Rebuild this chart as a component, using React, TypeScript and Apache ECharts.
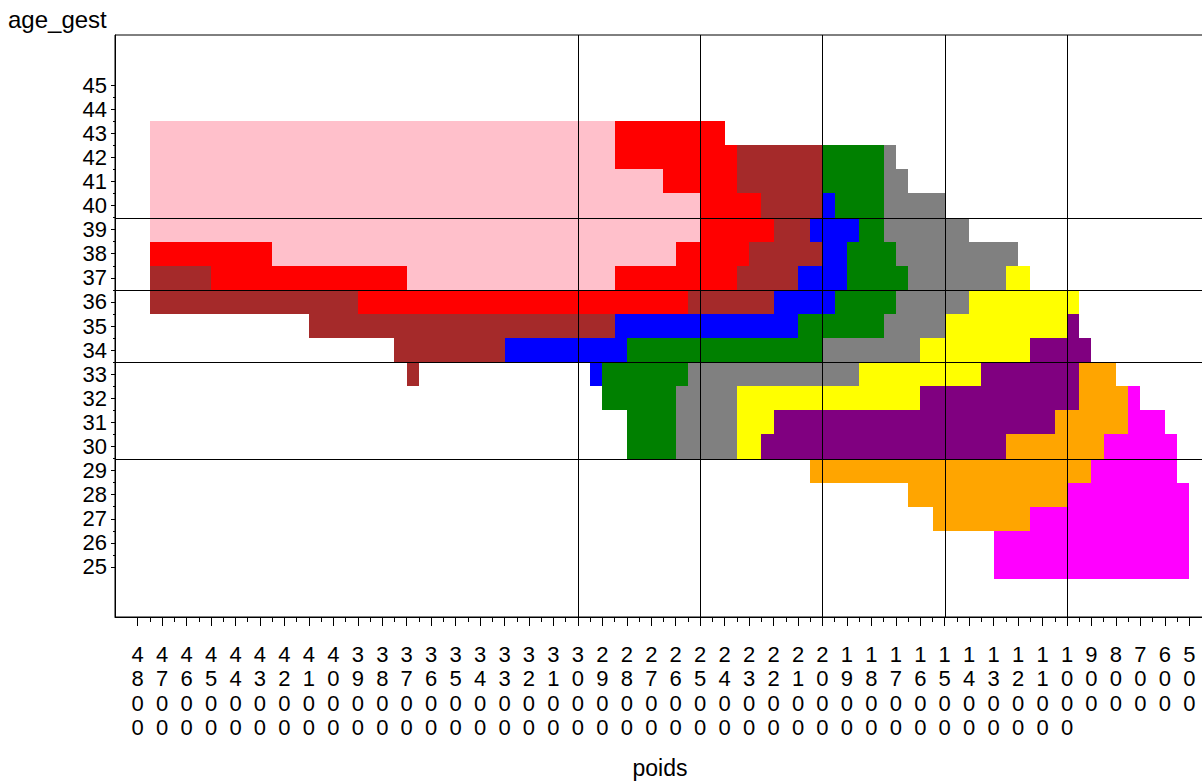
import React, { useEffect, useRef } from "react";
import * as echarts from "echarts";

// ---- axis ticks ----
const xTickValues = [4800, 4700, 4600, 4500, 4400, 4300, 4200, 4100, 4000, 3900, 3800, 3700, 3600, 3500, 3400, 3300, 3200, 3100, 3000, 2900, 2800, 2700, 2600, 2500, 2400, 2300, 2200, 2100, 2000, 1900, 1800, 1700, 1600, 1500, 1400, 1300, 1200, 1100, 1000, 900, 800, 700, 600, 500];
const xMinorTickValues = [4750, 4650, 4550, 4450, 4350, 4250, 4150, 4050, 3950, 3850, 3750, 3650, 3550, 3450, 3350, 3250, 3150, 3050, 2950, 2850, 2750, 2650, 2550, 2450, 2350, 2250, 2150, 2050, 1950, 1850, 1750, 1650, 1550, 1450, 1350, 1250, 1150, 1050, 950, 850, 750, 650, 550];
const yTickValues = [25, 26, 27, 28, 29, 30, 31, 32, 33, 34, 35, 36, 37, 38, 39, 40, 41, 42, 43, 44, 45];
const yMinorTickValues = [25.5, 26.5, 27.5, 28.5, 29.5, 30.5, 31.5, 32.5, 33.5, 34.5, 35.5, 36.5, 37.5, 38.5, 39.5, 40.5, 41.5, 42.5, 43.5, 44.5];

// ---- reference lines ----
const refPoids = [3000, 2500, 2000, 1500, 1000];
const refAge = [39.5, 36.5, 33.5, 29.5];

// ---- cells: [age_gest, poids from, poids to] ----
const pinkCells = [[43, 4750, 2850], [42, 4750, 2850], [41, 4750, 2650], [40, 4750, 2500], [39, 4750, 2500], [38, 4250, 2600], [37, 3700, 2850]];
const redCells = [[43, 2850, 2400], [42, 2850, 2350], [41, 2650, 2350], [40, 2500, 2250], [39, 2500, 2200], [38, 4750, 4250], [38, 2600, 2300], [37, 4500, 3700], [37, 2850, 2350], [36, 3900, 2550]];
const brownCells = [[42, 2350, 2000], [41, 2350, 2000], [40, 2250, 2000], [39, 2200, 2050], [38, 2300, 2000], [37, 4750, 4500], [37, 2350, 2100], [36, 4750, 3900], [36, 2550, 2200], [35, 4100, 2850], [34, 3750, 3300], [33, 3700, 3650]];
const blueCells = [[40, 2000, 1950], [39, 2050, 1850], [38, 2000, 1900], [37, 2100, 1900], [36, 2200, 1950], [35, 2850, 2100], [34, 3300, 2800], [33, 2950, 2900]];
const greenCells = [[42, 2000, 1750], [41, 2000, 1750], [40, 1950, 1750], [39, 1850, 1750], [38, 1900, 1700], [37, 1900, 1650], [36, 1950, 1700], [35, 2100, 1750], [34, 2800, 2000], [33, 2900, 2550], [32, 2900, 2600], [31, 2800, 2600], [30, 2800, 2600]];
const grayCells = [[42, 1750, 1700], [41, 1750, 1650], [40, 1750, 1500], [39, 1750, 1400], [38, 1700, 1200], [37, 1650, 1250], [36, 1700, 1400], [35, 1750, 1500], [34, 2000, 1600], [33, 2550, 1850], [32, 2600, 2350], [31, 2600, 2350], [30, 2600, 2350]];
const yellowCells = [[37, 1250, 1150], [36, 1400, 950], [35, 1500, 1000], [34, 1600, 1150], [33, 1850, 1350], [32, 2350, 1600], [31, 2350, 2200], [30, 2350, 2250]];
const purpleCells = [[35, 1000, 950], [34, 1150, 900], [33, 1350, 950], [32, 1600, 950], [31, 2200, 1050], [30, 2250, 1250]];
const orangeCells = [[33, 950, 800], [32, 950, 750], [31, 1050, 750], [30, 1250, 850], [29, 2050, 900], [28, 1650, 1000], [27, 1550, 1150]];
const magentaCells = [[32, 750, 700], [31, 750, 600], [30, 850, 550], [29, 900, 550], [28, 1000, 500], [27, 1150, 500], [26, 1300, 500], [25, 1300, 500]];

const cellGroups: [string, string, number[][]][] = [
  ["pink", "#FFC0CB", pinkCells],
  ["red", "#FF0000", redCells],
  ["brown", "#A52A2A", brownCells],
  ["blue", "#0000FF", blueCells],
  ["green", "#008000", greenCells],
  ["gray", "#808080", grayCells],
  ["yellow", "#FFFF00", yellowCells],
  ["purple", "#800080", purpleCells],
  ["orange", "#FFA500", orangeCells],
  ["magenta", "#FF00FF", magentaCells],
];

const FONT = "'Liberation Sans', Arial, Helvetica, sans-serif";
const X_MIN = 435.8;
const X_MAX = 4892.8;
const Y_MIN = 22.925;
const Y_MAX = 47.075;

export default function App() {
  const ref = useRef<HTMLDivElement>(null);

  useEffect(() => {
    if (!ref.current) return;
    const chart = echarts.init(ref.current, undefined, { renderer: "svg" });

    const cellSeries = cellGroups.map(([name, color, cells]) => ({
      type: "custom",
      name,
      xAxisIndex: 0,
      yAxisIndex: 0,
      silent: true,
      z: 2,
      data: cells,
      encode: { x: [1, 2], y: 0 },
      renderItem: (params: any, api: any) => {
        const age = api.value(0);
        const a = api.coord([api.value(1), age + 0.5]);
        const b = api.coord([api.value(2), age - 0.5]);
        const x0 = Math.round(Math.min(a[0], b[0]));
        const x1 = Math.round(Math.max(a[0], b[0]));
        const y0 = Math.round(Math.min(a[1], b[1]));
        const y1 = Math.round(Math.max(a[1], b[1]));
        return {
          type: "rect",
          shape: { x: x0, y: y0, width: x1 - x0, height: y1 - y0 },
          style: { fill: color, stroke: null },
        };
      },
    }));

    const vLineSeries = {
      type: "custom",
      name: "vref",
      silent: true,
      z: 5,
      data: refPoids.map((v) => [v]),
      encode: { x: 0 },
      renderItem: (params: any, api: any) => {
        const cs = params.coordSys;
        const p = api.coord([api.value(0), Y_MIN + 1]);
        const x = Math.round(p[0]) + 0.5;
        return {
          type: "line",
          shape: { x1: x, y1: cs.y, x2: x, y2: cs.y + cs.height },
          style: { stroke: "#000", lineWidth: 1 },
        };
      },
    };

    const hLineSeries = {
      type: "custom",
      name: "href",
      silent: true,
      z: 5,
      data: refAge.map((v) => [v]),
      encode: { y: 0 },
      renderItem: (params: any, api: any) => {
        const cs = params.coordSys;
        const p = api.coord([X_MAX - 100, api.value(0)]);
        const y = Math.round(p[1]) + 0.5;
        return {
          type: "line",
          shape: { x1: cs.x, y1: y, x2: cs.x + cs.width, y2: y },
          style: { stroke: "#000", lineWidth: 1 },
        };
      },
    };

    const option: any = {
      animation: false,
      backgroundColor: "#fff",
      textStyle: { fontFamily: FONT },
      grid: {
        left: 115,
        top: 35,
        width: 1090,
        height: 582,
        outerBoundsMode: "none",
        containLabel: false,
        show: true,
        borderColor: "#000",
        borderWidth: 1,
        backgroundColor: "transparent",
      },
      graphic: [
        {
          type: "text",
          left: 8,
          top: 7,
          style: { text: "age_gest", fontSize: 24, fontFamily: FONT, fill: "#000" },
        },
      ],
      xAxis: [
        {
          type: "value",
          inverse: true,
          position: "bottom",
          min: X_MIN,
          max: X_MAX,
          name: "poids",
          nameLocation: "middle",
          nameGap: 139,
          nameTextStyle: { fontSize: 23, color: "#000", fontFamily: FONT },
          axisLine: { show: true, lineStyle: { color: "#000", width: 1 } },
          axisTick: {
            show: true,
            customValues: xTickValues,
            length: 9,
            lineStyle: { color: "#000", width: 1 },
          },
          axisLabel: {
            show: true,
            customValues: xTickValues,
            interval: 0,
            hideOverlap: false,
            margin: 25,
            fontSize: 22,
            lineHeight: 24.5,
            color: "#000",
            fontFamily: FONT,
            formatter: (v: number) => String(Math.round(v)).split("").join("\n"),
          },
          splitLine: { show: false },
        },
        {
          type: "value",
          inverse: true,
          position: "bottom",
          min: X_MIN,
          max: X_MAX,
          axisLine: { show: false },
          axisTick: {
            show: true,
            customValues: xMinorTickValues,
            length: 5,
            lineStyle: { color: "#000", width: 1 },
          },
          axisLabel: { show: false },
          splitLine: { show: false },
        },
      ],
      yAxis: [
        {
          type: "value",
          position: "left",
          min: Y_MIN,
          max: Y_MAX,
          axisLine: { show: true, lineStyle: { color: "#000", width: 1 } },
          axisTick: {
            show: true,
            customValues: yTickValues,
            length: 4,
            lineStyle: { color: "#000", width: 1 },
          },
          axisLabel: {
            show: true,
            customValues: yTickValues,
            interval: 0,
            hideOverlap: false,
            margin: 8,
            fontSize: 22,
            color: "#000",
            fontFamily: FONT,
          },
          splitLine: { show: false },
        },
        {
          type: "value",
          position: "left",
          min: Y_MIN,
          max: Y_MAX,
          axisLine: { show: false },
          axisTick: {
            show: true,
            customValues: yMinorTickValues,
            length: 2,
            lineStyle: { color: "#000", width: 1 },
          },
          axisLabel: { show: false },
          splitLine: { show: false },
        },
      ],
      series: [...cellSeries, vLineSeries, hLineSeries],
    };

    chart.setOption(option);
    return () => chart.dispose();
  }, []);

  return (
    <div
      ref={ref}
      style={{ position: "absolute", left: 0, top: 0, width: 1202, height: 782, background: "#fff" }}
    />
  );
}
